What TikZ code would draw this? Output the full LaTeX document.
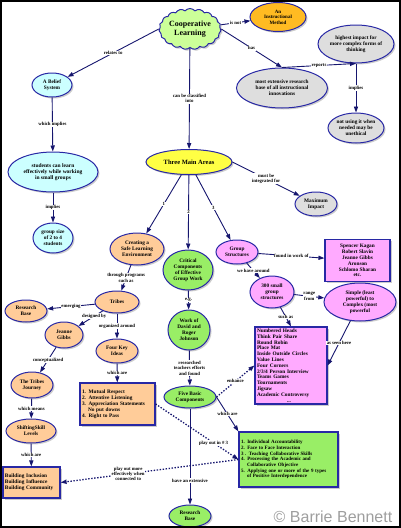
\documentclass[tikz,border=0pt]{standalone}
\usepackage{fontspec}
\setmainfont{Liberation Serif}
\newfontfamily\wmfont{Liberation Sans}
\usetikzlibrary{shapes.geometric,shapes.symbols,shadows,arrows.meta}
\definecolor{edgeblue}{RGB}{40,40,165}
\definecolor{navyl}{RGB}{22,22,110}
\definecolor{clgreen}{RGB}{204,255,153}
\definecolor{bgreen}{RGB}{153,238,102}
\definecolor{orng}{RGB}{255,187,34}
\definecolor{gry}{RGB}{222,222,222}
\definecolor{lcyan}{RGB}{204,255,255}
\definecolor{yel}{RGB}{255,255,68}
\definecolor{peach}{RGB}{255,204,153}
\definecolor{pinkf}{RGB}{255,170,255}
\begin{document}
\begin{tikzpicture}[x=1pt,y=-1pt,
  nd/.style={draw=edgeblue, line width=1pt, align=center, inner sep=0pt,
    font=\fontsize{5.3}{5.9}\selectfont\bfseries,
    drop shadow={shadow xshift=1.5pt,shadow yshift=-1.5pt,fill=black!40}},
  ell/.style={nd, ellipse},
  bx/.style={nd, rectangle, line width=1.2pt},
  lbl/.style={fill=white, inner sep=0.6pt, align=center, font=\fontsize{4.8}{5.4}\selectfont\bfseries},
  con/.style={draw=navyl, line width=0.9pt, -{Triangle[length=6pt,width=4.2pt]}},
  dcon/.style={con, dash pattern=on 1.4pt off 1.6pt, line width=1.3pt},
]
\useasboundingbox (0,0) rectangle (401,528);

% nodes
\node[nd, cloud, cloud puffs=19, cloud puff arc=100, aspect=1.6, fill=clgreen, minimum width=62pt, minimum height=38pt,
  font=\fontsize{8}{9}\selectfont\bfseries] (cl) at (190,29) {Cooperative\\Learning};
\node[ell, fill=orng, minimum width=56pt, minimum height=29pt, font=\fontsize{5}{5.6}\selectfont\bfseries] (im) at (278,17) {An\\Instructional\\Method};
\node[ell, fill=lcyan, minimum width=40pt, minimum height=24pt] (bs) at (52,85) {A Belief\\System};
\node[ell, fill=lcyan, minimum width=90pt, minimum height=40pt, font=\fontsize{5.5}{6.2}\selectfont\bfseries] (sl) at (53,172) {students can learn\\effectively while working\\in small groups};
\node[ell, fill=lcyan, minimum width=40pt, minimum height=30pt] (gz) at (53,238) {group size\\of 2 to 4\\students};
\node[ell, fill=yel, minimum width=86pt, minimum height=25pt, font=\fontsize{6.5}{7}\selectfont\bfseries] (tma) at (189,162) {Three Main Areas};
\node[ell, fill=gry, minimum width=91pt, minimum height=40pt] (me) at (282,88) {most extensive research\\base of all instructional\\innovations};
\node[ell, fill=gry, minimum width=76pt, minimum height=38pt] (hi) at (356,44) {highest impact for\\more complex forms of\\thinking};
\node[ell, fill=gry, minimum width=56pt, minimum height=30pt] (nu) at (356,128) {not using it when\\needed may be\\unethical};
\node[ell, fill=gry, minimum width=42pt, minimum height=24pt] (mi) at (316,204) {Maximum\\Impact};
\node[ell, fill=peach, minimum width=54pt, minimum height=32pt] (cs) at (137,249) {Creating a\\Safe Learning\\Environment};
\node[ell, fill=bgreen, minimum width=50pt, minimum height=40pt] (cc) at (188,270) {Critical\\Components\\of Effective\\Group Work};
\node[ell, fill=pinkf, minimum width=42pt, minimum height=24pt] (gs) at (237,252) {Group\\Structures};
\node[bx, fill=pinkf, minimum width=65pt, minimum height=42pt] (kb) at (357.5,260.5) {Spencer Kagan\\Robert Slavin\\Jeanne Gibbs\\Aronson\\Schlomo Sharan\\etc.};
\node[ell, fill=pinkf, minimum width=44pt, minimum height=32pt] (s3) at (272,292) {300 small\\group\\structures};
\node[ell, fill=pinkf, minimum width=72pt, minimum height=38pt] (sim) at (360,302) {Simple (least\\powerful) to\\Complex (most\\powerful};
\node[bx, fill=pinkf, align=left, text width=68pt, inner xsep=2pt, minimum height=77pt,
  font=\fontsize{5.3}{5.8}\selectfont\bfseries] (nb) at (291,365.5)
  {Numbered Heads\\Think Pair Share\\Round Robin\\Place Mat\\Inside Outside Circles\\Value Lines\\Four Corners\\2/3/4 Person Interview\\Teams Games\\Tournaments\\Jigsaw\\Academic Controversy\\\hspace*{30pt}...};
\node[ell, fill=peach, minimum width=44pt, minimum height=22pt] (tr) at (117,302) {Tribes};
\node[ell, fill=peach, minimum width=42pt, minimum height=22pt] (rb1) at (26,311) {Research\\Base};
\node[ell, fill=peach, minimum width=38pt, minimum height=26pt] (jg) at (64,335) {Jeanne\\Gibbs};
\node[ell, fill=peach, minimum width=42pt, minimum height=24pt] (fk) at (117,351) {Four Key\\Ideas};
\node[bx, fill=peach, align=left, text width=71pt, inner xsep=2pt, minimum height=42pt] (mb) at (117.5,404)
  {1. Mutual Respect\\2. Attentive Listening\\3. Appreciation Statements\\\hspace*{6pt}No put downs\\4. Right to Pass};
\node[ell, fill=peach, minimum width=42pt, minimum height=26pt] (tj) at (32,385) {The Tribes\\Journey};
\node[ell, fill=peach, minimum width=50pt, minimum height=24pt] (sh) at (31,431) {ShiftingSkill\\Levels};
\node[bx, fill=peach, align=left, text width=53pt, inner xsep=2pt, minimum height=31pt] (bb) at (31.5,482.5)
  {Building Inclusion\\Building Influence\\Building Community};
\node[ell, fill=bgreen, minimum width=42pt, minimum height=40pt] (wk) at (189,330) {Work of\\David and\\Roger\\Johnson};
\node[ell, fill=bgreen, minimum width=52pt, minimum height=22pt] (fb) at (190,397) {Five Basic\\Components};
\node[bx, fill=bgreen, align=left, text width=95pt, inner xsep=2pt, minimum height=55pt,
  font=\fontsize{5}{5.7}\selectfont\bfseries] (fl) at (288.5,459.5)
  {1. Individual Accountability\\2. Face to Face Interaction\\3 . Teaching Collaborative Skills\\4. Processing the Academic and\\\hspace*{6pt}Collaborative Objective\\5. Applying one or more of the 9 types\\\hspace*{6pt}of Positive Interdependence};
\node[ell, fill=bgreen, minimum width=42pt, minimum height=22pt] (rb2) at (190,516) {Research\\Base};
\node[font=\wmfont\fontsize{16}{16}\selectfont, text=black!38, anchor=base, inner sep=0pt] (wm) at (333,522) {© Barrie Bennett};

% connectors
\draw[con] (cl.west) -- node[lbl]{relates to} (bs);
\draw[con] (cl) -- node[lbl]{is not} (im);
\draw[con] (cl) -- node[lbl]{can be classified\\into} (tma);
\draw[con] (cl.east) -- node[lbl]{has} (me.north);
\draw[con] (me.north) -- node[lbl]{reports} (hi.south);
\draw[con] (hi) -- node[lbl]{implies} (nu);
\draw[con] (bs) -- node[lbl]{which implies} (sl);
\draw[con] (sl) -- node[lbl]{implies} (gz);
\draw[con] (tma.east) -- node[lbl]{must be\\integrated for} (mi);
\draw[con] (tma) -- node[lbl]{1} (cs);
\draw[con] (tma) -- node[lbl]{2} (cc);
\draw[con] (tma) -- node[lbl]{3} (gs);
\draw[con] (cs) -- node[lbl]{through programs\\such as} (tr);
\draw[con] (tr) -- node[lbl]{emerging} (rb1);
\draw[con] (tr) -- node[lbl,pos=0.35]{designed by} (jg);
\draw[con] (tr) -- node[lbl]{organized around} (fk);
\draw[con] (jg) -- node[lbl]{conceptualized} (tj);
\draw[con] (fk) -- node[lbl]{which are} (mb);
\draw[con] (tj) -- node[lbl]{which means} (sh);
\draw[con] (sh) -- node[lbl]{which are} (bb);
\draw[con] (cc) -- node[lbl]{e.g.} (wk);
\draw[con] (wk) -- node[lbl]{researched\\teachers efforts\\and found} (fb);
\draw[dcon] (fb.east) -- node[lbl]{enhance} (nb.west);
\draw[con] (fb.east) -- node[lbl]{which are} (fl.north west);
\draw[con] (fb) -- node[lbl,pos=0.75]{have an extensive} (rb2);
\draw[dcon] (mb.east) -- node[lbl,pos=0.7]{play out in \# 3} (fl.west);
\draw[dcon] (fl.west) -- node[lbl,pos=0.62]{play out more\\effectively when\\connected to} (bb.east);
\draw[con] (gs) -- node[lbl]{found in work of} (kb);
\draw[con] (gs) -- node[lbl]{we have around} (s3);
\draw[con] (s3) -- node[lbl]{range\\from} (sim);
\draw[con] (s3) -- node[lbl]{such as} (nb.north);
\draw[con] (sim) -- node[lbl]{as seen here} (nb.east);

\draw[line width=2pt] (1,1) rectangle (400,527);
\end{tikzpicture}
\end{document}
